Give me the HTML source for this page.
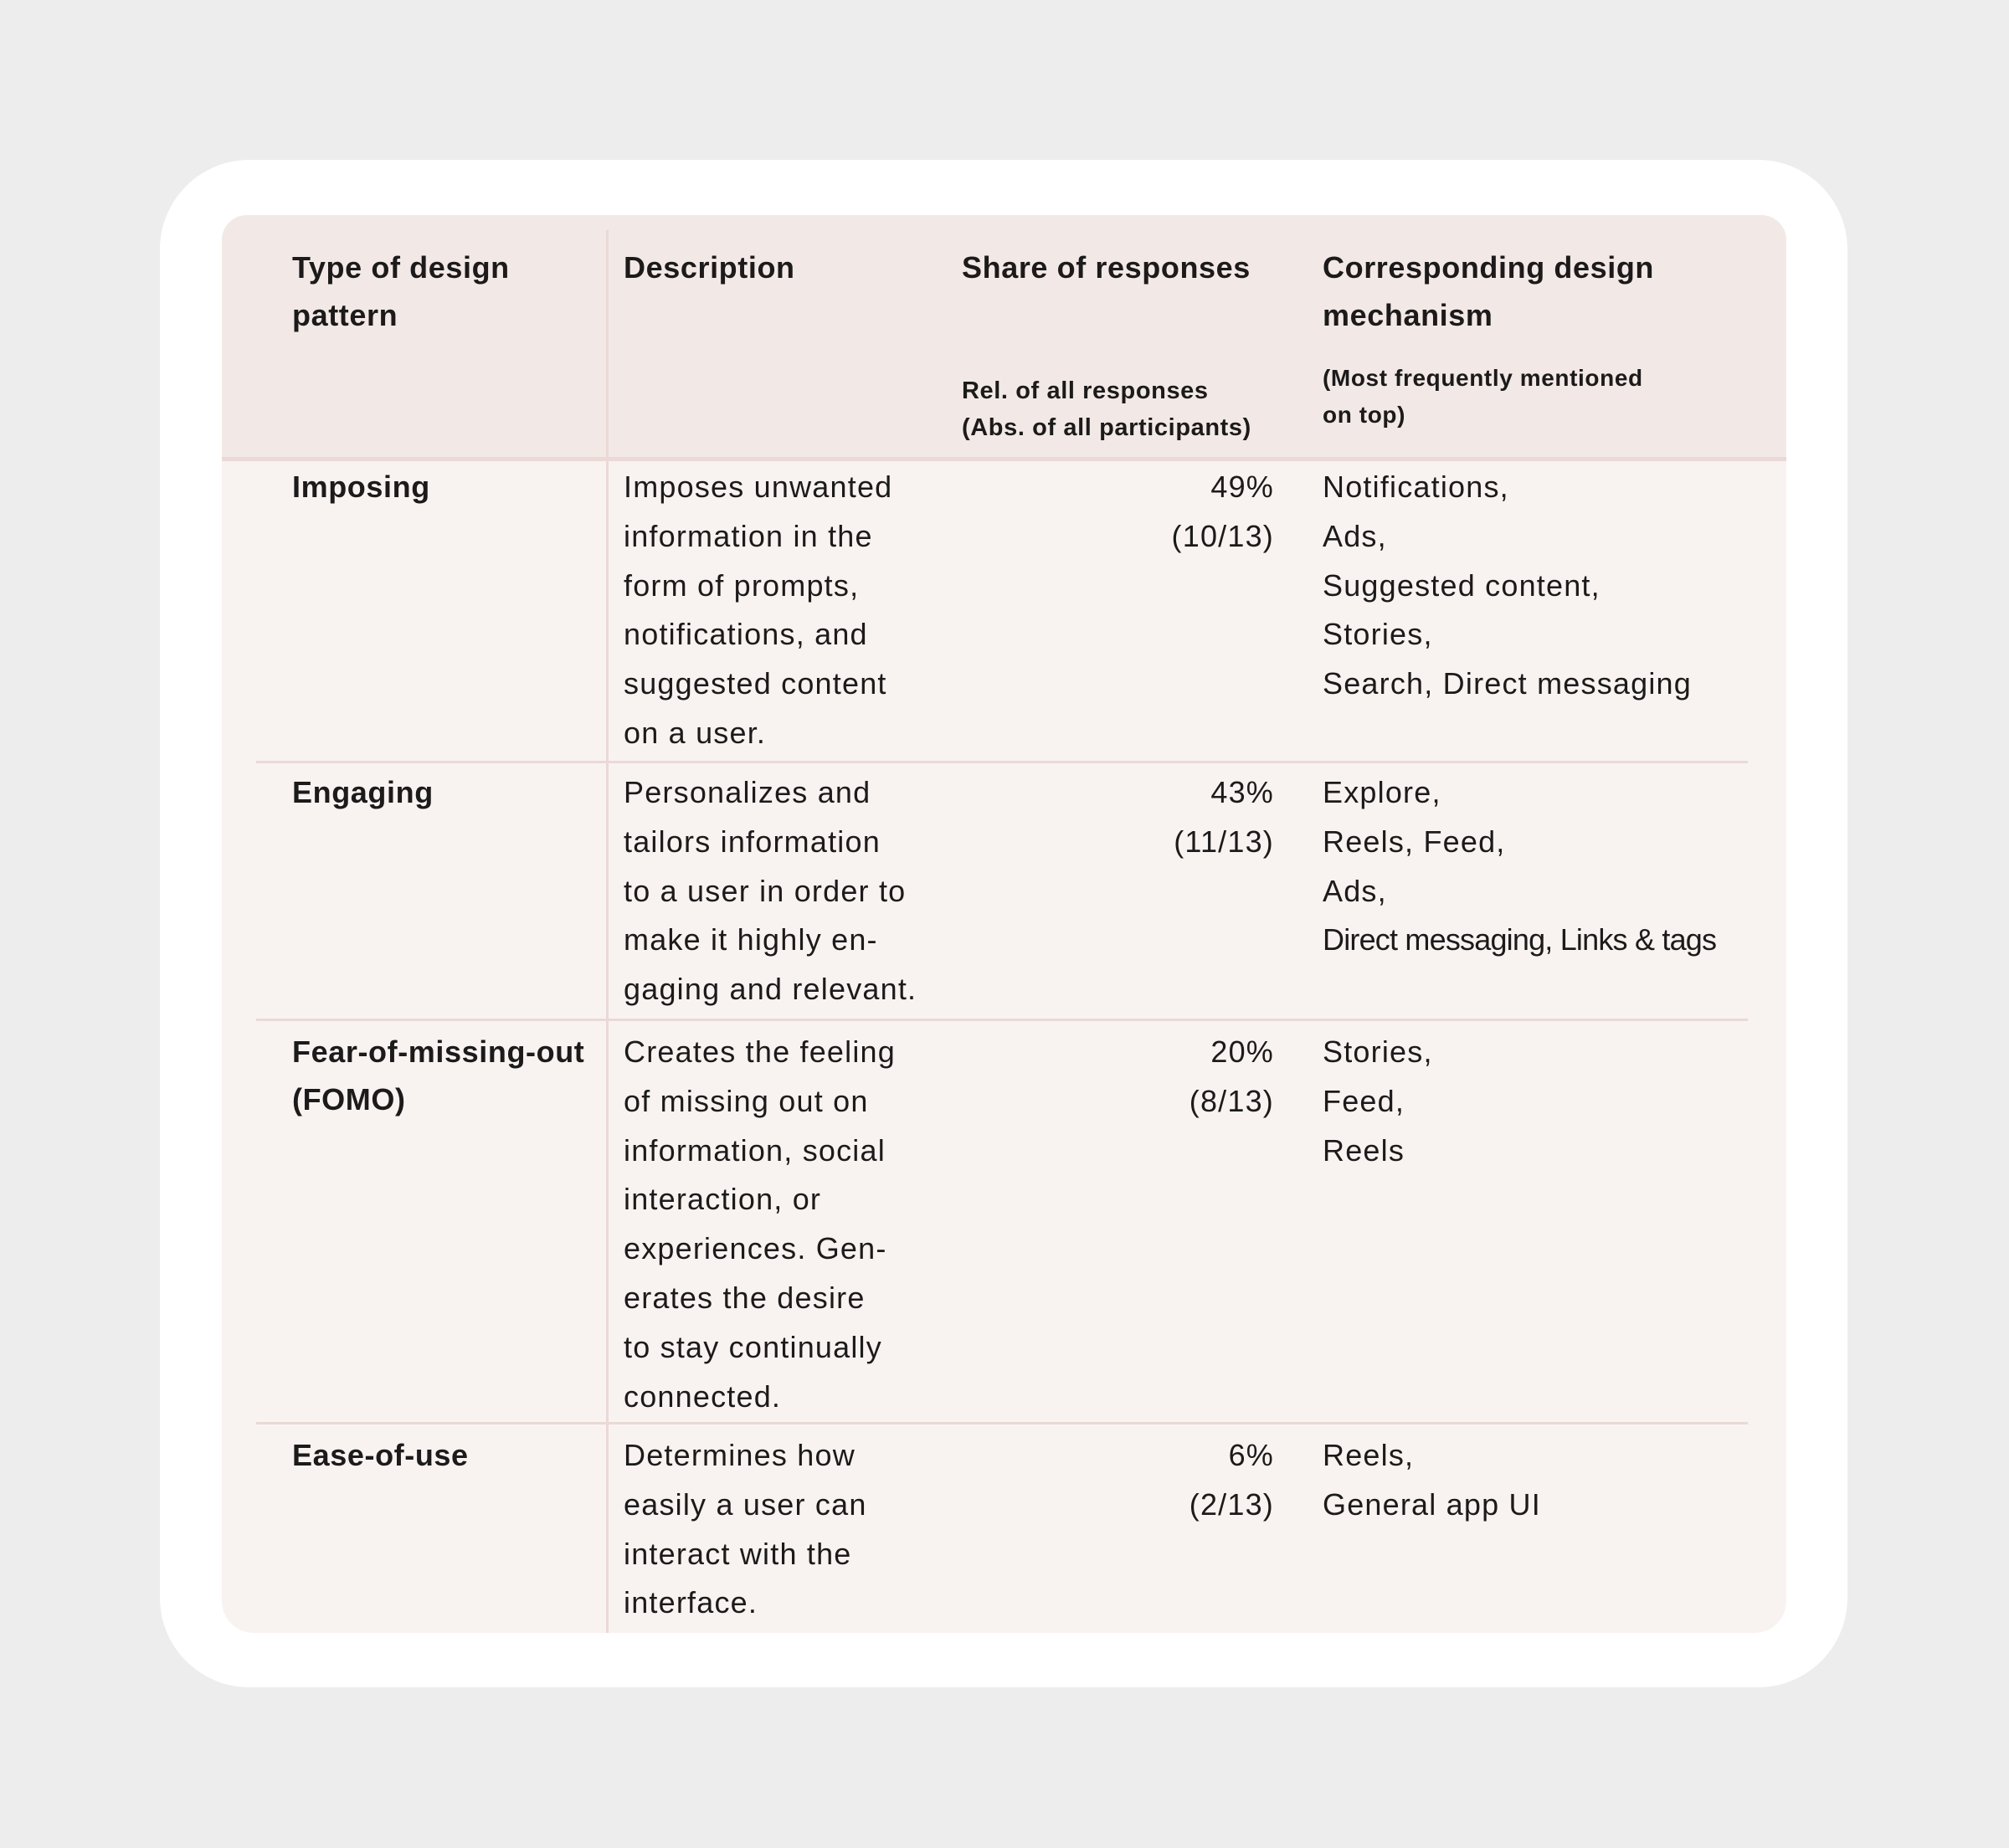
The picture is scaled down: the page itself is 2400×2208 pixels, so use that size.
<!DOCTYPE html>
<html><head><meta charset="utf-8"><style>
html,body{margin:0;padding:0}
body{width:2400px;height:2208px;background:#ededed;position:relative;overflow:hidden;font-family:"Liberation Sans",sans-serif;color:#1c1a1a}
#card{position:absolute;left:191px;top:191px;width:2016px;height:1825px;background:#fff;border-radius:107px}
#tbl{position:absolute;left:265px;top:257px;width:1869px;height:1694px;background:#f8f3f1;border-radius:30px 30px 38px 38px;overflow:hidden}
#hdr{position:absolute;left:0;top:0;width:1869px;height:289px;background:#f2e9e6;border-bottom:5px solid #ead9d5}
.vl{position:absolute;left:459px;top:18px;width:3px;height:1676px;background:#ead9d5}
.hl{position:absolute;left:41px;width:1782px;height:3px;background:#ead9d5}
.t{position:absolute;font-size:36px;line-height:58.8px;white-space:nowrap;letter-spacing:1.2px}
.h{font-weight:bold;line-height:57px;letter-spacing:0.6px}
.s{font-size:29px;line-height:44px;font-weight:bold;letter-spacing:0.6px}
.r{text-align:right}
</style></head><body>
<div id="card"></div>
<div id="tbl">
<div id="hdr"></div>
<div class="vl"></div>
<div class="hl" style="top:652px"></div>
<div class="hl" style="top:960px"></div>
<div class="hl" style="top:1442px"></div>

<div class="t h" style="left:84px;top:34px">Type of design<br>pattern</div>
<div class="t h" style="left:480px;top:34px">Description</div>
<div class="t h" style="left:884px;top:34px">Share of responses</div>
<div class="t s" style="left:884px;top:188px">Rel. of all responses<br>(Abs. of all participants)</div>
<div class="t h" style="left:1315px;top:34px">Corresponding design<br>mechanism</div>
<div class="t s" style="left:1315px;top:173px;font-size:28px">(Most frequently mentioned<br>on top)</div>

<div class="t h" style="left:84px;top:296px">Imposing</div>
<div class="t" style="left:480px;top:296px">Imposes unwanted<br>information in the<br>form of prompts,<br>notifications, and<br>suggested content<br>on a user.</div>
<div class="t r" style="right:612px;top:296px">49%<br>(10/13)</div>
<div class="t" style="left:1315px;top:296px">Notifications,<br>Ads,<br>Suggested content,<br>Stories,<br>Search, Direct messaging</div>

<div class="t h" style="left:84px;top:661px">Engaging</div>
<div class="t" style="left:480px;top:661px">Personalizes and<br>tailors information<br>to a user in order to<br>make it highly en-<br>gaging and relevant.</div>
<div class="t r" style="right:612px;top:661px">43%<br>(11/13)</div>
<div class="t" style="left:1315px;top:661px">Explore,<br>Reels, Feed,<br>Ads,<br><span style="letter-spacing:-0.8px">Direct messaging, Links &amp; tags</span></div>

<div class="t h" style="left:84px;top:971px">Fear-of-missing-out<br>(FOMO)</div>
<div class="t" style="left:480px;top:971px">Creates the feeling<br>of missing out on<br>information, social<br>interaction, or<br>experiences. Gen-<br>erates the desire<br>to stay continually<br>connected.</div>
<div class="t r" style="right:612px;top:971px">20%<br>(8/13)</div>
<div class="t" style="left:1315px;top:971px">Stories,<br>Feed,<br>Reels</div>

<div class="t h" style="left:84px;top:1453px">Ease-of-use</div>
<div class="t" style="left:480px;top:1453px">Determines how<br>easily a user can<br>interact with the<br>interface.</div>
<div class="t r" style="right:612px;top:1453px">6%<br>(2/13)</div>
<div class="t" style="left:1315px;top:1453px">Reels,<br>General app UI</div>
</div>
</body></html>
